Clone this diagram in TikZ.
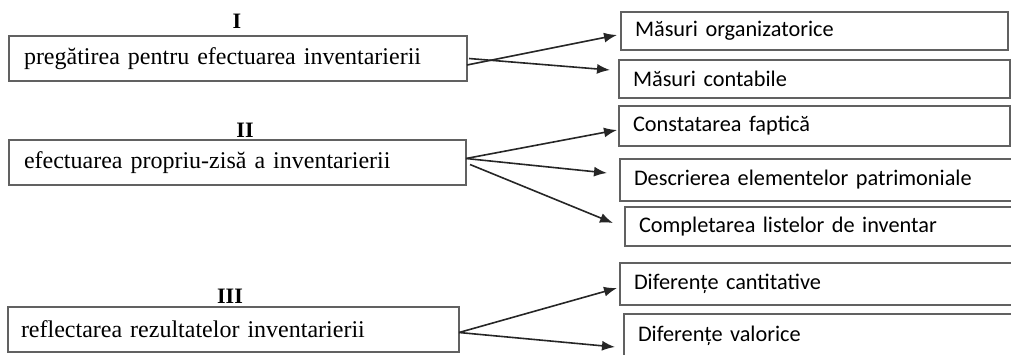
\documentclass[tikz,border=0pt]{standalone}
\usepackage{fontspec}
\setmainfont{Liberation Serif}
\newfontfamily\calib{Carlito}
\usetikzlibrary{arrows.meta}
\tikzset{
  box/.style={draw=black!62, line width=1.4pt, anchor=north west, inner ysep=0pt, outer sep=0pt},
  lbox/.style={box, text width=#1, inner xsep=15pt, align=left, minimum height=45pt, font=\fontsize{24}{26}\selectfont},
  rbox/.style={box, text width=#1, inner xsep=14pt, align=left, font=\calib\fontsize{22.3}{24}\selectfont},
  roman/.style={font=\bfseries\fontsize{22}{24}\selectfont, inner sep=0pt},
  conn/.style={line width=1.6pt, black!85, -{Latex[length=13pt,width=10pt]}}
}
\begin{document}
\begin{tikzpicture}[x=1pt,y=-1pt]
\useasboundingbox (0,0) rectangle (1011,354);
\clip (0,0) rectangle (1011,354);
% left boxes
\node[lbox=428pt] (L1) at (9,36) {pregătirea pentru efectuarea inventarierii};
\node[lbox=427pt] (L2) at (9,140) {efectuarea propriu-zisă a inventarierii};
\node[lbox=425pt, inner xsep=13pt] (L3) at (8,307) {reflectarea rezultatelor inventarierii};
\node[roman] (n1) at (237,21) {I};
\node[roman] (n2) at (245,130) {II};
\node[roman] (n3) at (230,296) {III};
% right boxes
\node[rbox=359pt, minimum height=38pt] (R1) at (621,12) {Măsuri organizatorice};
\node[rbox=363pt, minimum height=38pt] (R2) at (619,60) {Măsuri contabile};
\node[rbox=363pt, minimum height=40pt] (R3) at (619,106) {Constatarea faptică};
\node[rbox=364pt, minimum height=42pt] (R4) at (620,159) {Descrierea elementelor patrimoniale};
\node[rbox=359pt, minimum height=39pt] (R5) at (625,207) {Completarea listelor de inventar};
\node[rbox=364pt, minimum height=42pt] (R6) at (620,263) {Diferențe cantitative};
\node[rbox=360pt, minimum height=44pt] (R7) at (624,314) {Diferențe valorice};
% connectors
\draw[conn] ([yshift=-6.5pt]L1.east) -- ([xshift=-4pt,yshift=-4pt]R1.west);
\draw[conn] ([xshift=2pt]L1.east) -- ([xshift=-9pt,yshift=9pt]R2.west);
\draw[conn] ([yshift=4pt]L2.east) -- ([xshift=-2pt,yshift=-4pt]R3.west);
\draw[conn] ([yshift=4pt]L2.east) -- ([xshift=-13pt,yshift=7pt]R4.west);
\draw[conn] ([xshift=4pt,yshift=-2pt]L2.east) -- ([xshift=-12pt,yshift=3.5pt]R5.west);
\draw[conn] ([yshift=-3pt]L3.east) -- ([xshift=-3pt,yshift=-4pt]R6.west);
\draw[conn] ([yshift=-3pt]L3.east) -- ([xshift=-9pt,yshift=-11pt]R7.west);
\end{tikzpicture}
\end{document}
